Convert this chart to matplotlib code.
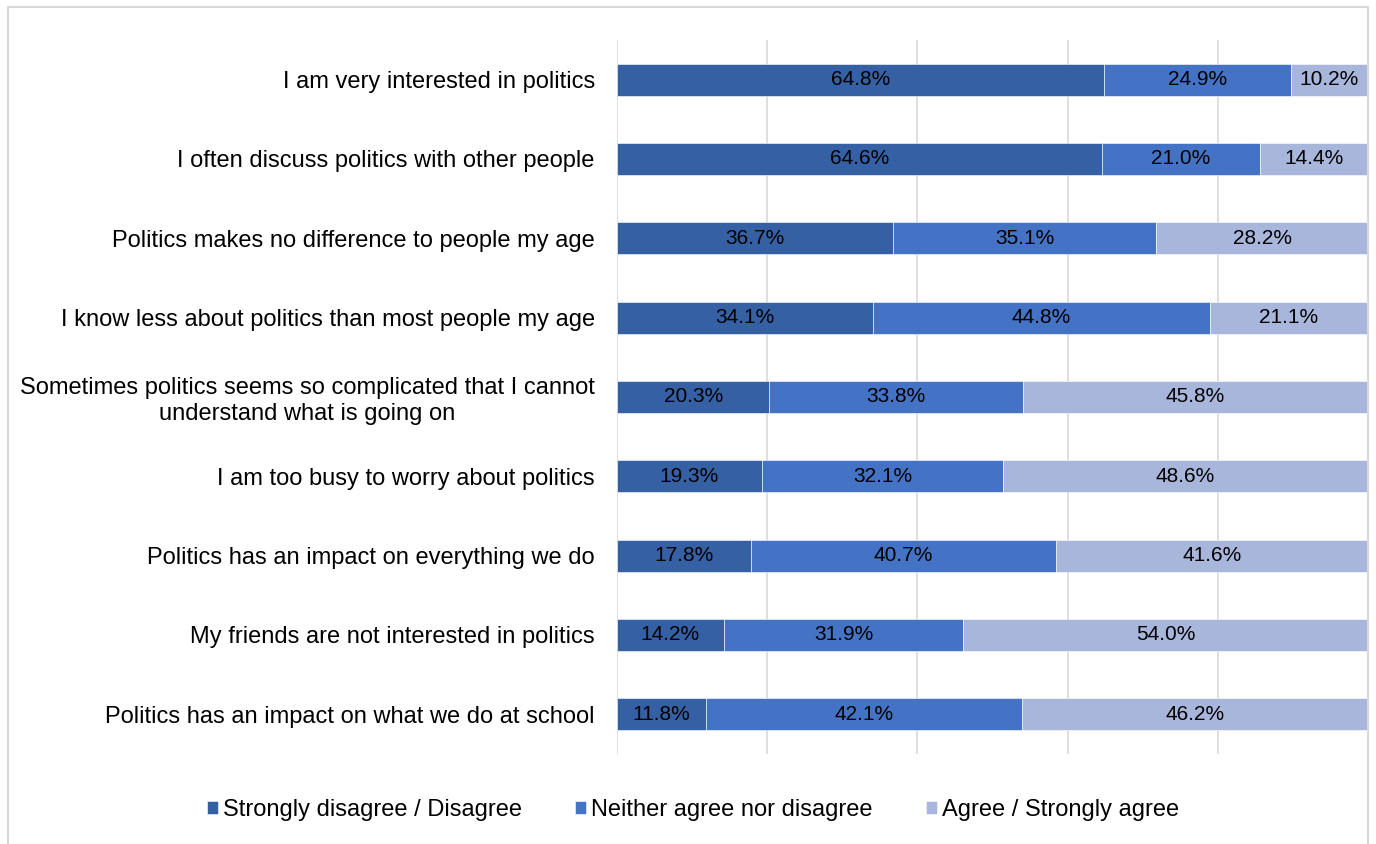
import matplotlib.pyplot as plt
import numpy as np
from matplotlib.patches import Rectangle

plt.rcParams['font.family'] = ['Liberation Sans', 'DejaVu Sans']

statements = [
    "I am very interested in politics",
    "I often discuss politics with other people",
    "Politics makes no difference to people my age",
    "I know less about politics than most people my age",
    "Sometimes politics seems so complicated that I cannot\nunderstand what is going on",
    "I am too busy to worry about politics",
    "Politics has an impact on everything we do",
    "My friends are not interested in politics",
    "Politics has an impact on what we do at school",
]
disagree = [64.8, 64.6, 36.7, 34.1, 20.3, 19.3, 17.8, 14.2, 11.8]
neither = [24.9, 21.0, 35.1, 44.8, 33.8, 32.1, 40.7, 31.9, 42.1]
agree = [10.2, 14.4, 28.2, 21.1, 45.8, 48.6, 41.6, 54.0, 46.2]

series_names = ["Strongly disagree / Disagree", "Neither agree nor disagree", "Agree / Strongly agree"]
colors = ["#3560A3", "#4472C4", "#A9B6DB"]

fig = plt.figure(figsize=(13.76, 8.44), dpi=100)
ax = fig.add_axes([617 / 1376, 1 - 754 / 844, 751 / 1376, 714 / 844])

y = np.arange(len(statements))
left = np.zeros(len(statements))
for vals, name, col in zip([disagree, neither, agree], series_names, colors):
    vals = np.array(vals)
    bars = ax.barh(y, vals, left=left, height=0.4, color=col, label=name,
                   edgecolor='white', linewidth=0.4, zorder=2)
    for b, v in zip(bars, vals):
        ax.text(b.get_x() + b.get_width() / 2, b.get_y() + b.get_height() / 2,
                "%.1f%%" % v, ha='center', va='center', fontsize=15, color='black', zorder=3)
    left += vals

ax.set_xlim(0, 100)
ax.set_ylim(len(statements) - 0.5, -0.5)
ax.set_xticks(np.arange(0, 101, 20))
ax.set_xticklabels([])
ax.set_yticks(y)
ax.set_yticklabels(statements, fontsize=17)
ax.tick_params(length=0, pad=16)
for lab in ax.get_yticklabels():
    lab.set_multialignment('center')
ax.grid(axis='x', color='#D9D9D9', linewidth=1.2, zorder=0)
for s in ax.spines.values():
    s.set_visible(False)

fig.legend(loc='center', bbox_to_anchor=(693 / 1376, 1 - 810 / 844), ncol=3,
           frameon=False, fontsize=17, handlelength=0.47, handleheight=0.47,
           handletextpad=0.2, columnspacing=2.25)

fig.patches.append(Rectangle((8 / 1376, -0.05), 1360 / 1376, 1.05 - 7 / 844,
                             transform=fig.transFigure, fill=False,
                             edgecolor='#D9D9D9', linewidth=1.5))

fig.savefig("out.png", dpi=100)
